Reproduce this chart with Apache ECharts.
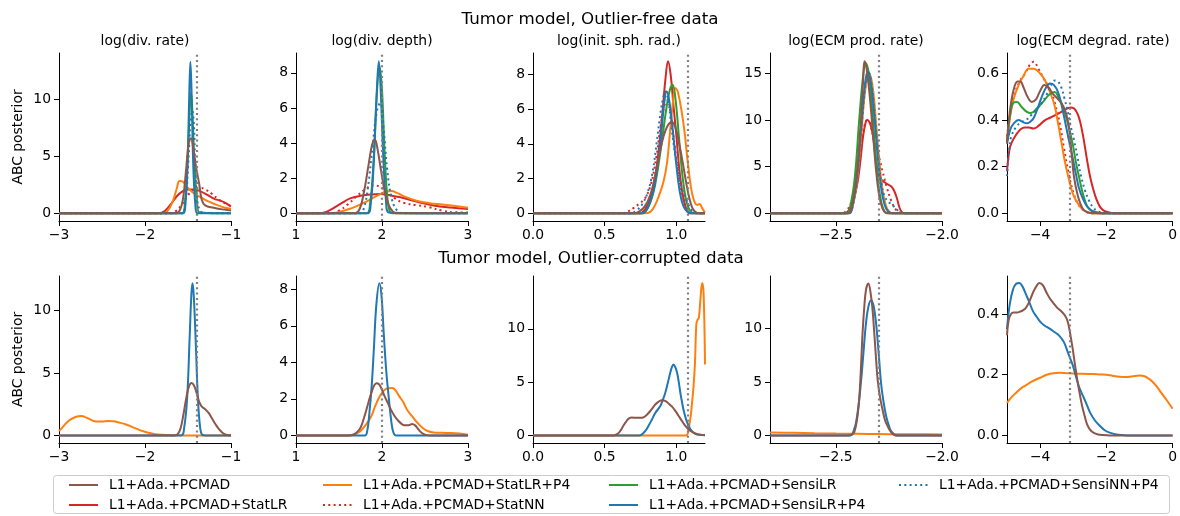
<!DOCTYPE html>
<html><head><meta charset="utf-8">
<script src="https://cdn.jsdelivr.net/npm/echarts@6/dist/echarts.min.js"></script>
<style>html,body{margin:0;padding:0;background:#fff}#c{width:1180px;height:516px}</style>
</head><body><div id="c"></div>
<script>
// ---------- labels ----------
const methodNames = {
  pcmad: 'L1+Ada.+PCMAD', statlr: 'L1+Ada.+PCMAD+StatLR', statlrp4: 'L1+Ada.+PCMAD+StatLR+P4',
  statnn: 'L1+Ada.+PCMAD+StatNN', sensilr: 'L1+Ada.+PCMAD+SensiLR', sensilrp4: 'L1+Ada.+PCMAD+SensiLR+P4',
  sensinnp4: 'L1+Ada.+PCMAD+SensiNN+P4'
};
const legendColumns = [['pcmad','statlr'],['statlrp4','statnn'],['sensilr','sensilrp4'],['sensinnp4']];
const drawOrder = ['statlr','statnn','statlrp4','sensilr','sensinnp4','sensilrp4','pcmad'];
const paramTitles = ['log(div. rate)','log(div. depth)','log(init. sph. rad.)','log(ECM prod. rate)','log(ECM degrad. rate)'];
const rowTitles = ['Tumor model, Outlier-free data','Tumor model, Outlier-corrupted data'];
const trueValues = [-1.398, 2.0, 1.079, -2.301, -3.097];
const xRanges = [[-3,-1],[1,3],[0,1.2],[-2.81,-2.0],[-5,0]];
const xTicks = [[-3,-2,-1],[1,2,3],[0,0.5,1.0],[-2.5,-2.0],[-4,-2,0]];
const xDecimals = [0,0,1,1,0];
const yTicksFree = [[0,5,10],[0,2,4,6,8],[0,2,4,6,8],[0,5,10,15],[0,0.2,0.4,0.6]];
const yTicksCorr = [[0,5,10],[0,2,4,6,8],[0,5,10],[0,5,10],[0,0.2,0.4]];
const yDecimals = [0,0,0,0,1];
const yPeakFree = [13.4, 8.69, 8.78, 16.37, 0.655];
const yPeakCorr = [12.17, 8.31, 14.25, 14.2, 0.5];

// ---------- outlier-free data ----------
const f1_pcmad = [[-3,0],[-1.65,0],[-1.6,0.2],[-1.56,1.2],[-1.52,4],[-1.49,6.3],[-1.465,6.6],[-1.44,5.8],[-1.41,4.2],[-1.37,2.6],[-1.34,1.2],[-1.3,0.7],[-1.2,0.5],[-1.1,0.35],[-1,0.25]];
const f1_sensilrp4 = [[-3,0],[-1.56,0],[-1.53,0.8],[-1.505,4.5],[-1.485,10.5],[-1.472,13.3],[-1.458,10.5],[-1.44,4.5],[-1.415,0.8],[-1.39,0],[-1,0]];
const f1_sensilr = [[-3,0],[-1.57,0],[-1.535,1],[-1.505,4.5],[-1.48,9],[-1.465,10.6],[-1.45,9],[-1.425,4.5],[-1.395,1],[-1.37,0.1],[-1,0]];
const f1_sensinnp4 = [[-3,0],[-1.57,0],[-1.53,1],[-1.5,4],[-1.47,8],[-1.45,9],[-1.43,7.5],[-1.415,4],[-1.395,1.5],[-1.37,0.4],[-1.32,0.05],[-1,0]];
const f1_statlrp4 = [[-3,0],[-1.8,0],[-1.74,0.2],[-1.68,1.0],[-1.63,2.2],[-1.6,2.85],[-1.565,2.8],[-1.52,2.4],[-1.47,2.0],[-1.42,1.7],[-1.35,1.4],[-1.25,1.0],[-1.15,0.7],[-1.07,0.5],[-1,0.4]];
const f1_statlr = [[-3,0],[-1.84,0],[-1.77,0.2],[-1.7,0.8],[-1.63,1.5],[-1.56,1.95],[-1.5,2.1],[-1.43,2.1],[-1.36,1.95],[-1.28,1.65],[-1.2,1.3],[-1.12,1.1],[-1.06,0.9],[-1,0.6]];
const f1_statnn = [[-3,0],[-1.72,0],[-1.64,0.2],[-1.57,0.8],[-1.5,1.6],[-1.43,2.1],[-1.36,2.25],[-1.3,2.1],[-1.22,1.7],[-1.14,1.2],[-1.06,0.85],[-1,0.65]];

const f2_sensilrp4 = [[1,0],[1.83,0],[1.87,0.6],[1.905,3],[1.94,7],[1.963,8.65],[1.985,7],[2.015,3.2],[2.045,0.8],[2.08,0.05],[3,0]];
const f2_sensilr = [[1,0],[1.82,0],[1.86,0.5],[1.9,2.8],[1.94,6.8],[1.972,8.35],[2.0,7],[2.03,3.5],[2.06,1.0],[2.09,0.1],[2.12,0],[3,0]];
const f2_sensinnp4 = [[1,0],[1.74,0],[1.79,0.3],[1.84,1.6],[1.89,3.8],[1.94,5.8],[1.98,6.3],[2.02,4.8],[2.06,2.5],[2.11,0.9],[2.17,0.2],[2.25,0],[3,0]];
const f2_pcmad = [[1,0],[1.68,0],[1.74,0.25],[1.79,1.2],[1.845,2.8],[1.885,3.9],[1.917,4.2],[1.95,3.6],[1.99,2.4],[2.03,1.3],[2.08,0.45],[2.13,0.08],[2.18,0],[3,0]];
const f2_statlr = [[1,0],[1.25,0],[1.33,0.05],[1.4,0.2],[1.52,0.55],[1.63,0.85],[1.75,1.0],[1.87,1.08],[1.98,1.1],[2.1,1.02],[2.2,0.93],[2.41,0.66],[2.6,0.45],[2.8,0.33],[3,0.25]];
const f2_statlrp4 = [[1,0],[1.4,0],[1.5,0.08],[1.6,0.22],[1.7,0.4],[1.8,0.62],[1.9,0.9],[1.98,1.1],[2.05,1.25],[2.11,1.27],[2.18,1.15],[2.28,0.92],[2.4,0.72],[2.55,0.58],[2.7,0.5],[2.85,0.42],[3,0.32]];
const f2_statnn = [[1,0],[1.4,0],[1.5,0.15],[1.6,0.5],[1.7,0.95],[1.8,1.35],[1.9,1.6],[1.98,1.5],[2.06,1.2],[2.15,0.85],[2.25,0.6],[2.4,0.47],[2.55,0.35],[2.7,0.15],[2.85,0.06],[3,0.05]];

const f3_statlr = [[0,0],[0.74,0],[0.78,0.2],[0.82,0.9],[0.85,2.0],[0.875,3.5],[0.9,5.5],[0.925,7.8],[0.942,8.75],[0.96,8.0],[0.98,6.2],[1.0,4.5],[1.02,2.6],[1.04,1.3],[1.06,0.5],[1.08,0.1],[1.1,0],[1.2,0]];
const f3_sensilr = [[0,0],[0.76,0],[0.8,0.3],[0.84,1.2],[0.87,2.5],[0.9,4.2],[0.93,6.0],[0.955,7.1],[0.974,7.4],[0.995,6.5],[1.02,4.2],[1.045,2.0],[1.07,0.7],[1.095,0.15],[1.12,0.02],[1.2,0]];
const f3_sensilrp4 = [[0,0],[0.76,0],[0.8,0.3],[0.84,1.3],[0.87,2.8],[0.895,4.6],[0.915,6.3],[0.932,7.0],[0.95,6.5],[0.975,4.8],[1.0,2.8],[1.025,1.2],[1.05,0.4],[1.08,0.06],[1.1,0],[1.2,0]];
const f3_statlrp4 = [[0,0],[0.78,0],[0.82,0.1],[0.85,0.45],[0.876,0.95],[0.91,1.8],[0.935,2.9],[0.955,4.6],[0.975,6.3],[0.993,7.2],[1.01,7.0],[1.04,5.7],[1.06,4.5],[1.075,3.3],[1.095,1.9],[1.11,1.15],[1.13,0.6],[1.145,0.48],[1.163,0.54],[1.18,0.3],[1.2,0.04]];
const f3_pcmad = [[0,0],[0.7,0],[0.74,0.1],[0.78,0.4],[0.82,1.1],[0.85,2.1],[0.88,3.3],[0.91,4.4],[0.94,5.05],[0.97,5.25],[0.995,4.9],[1.02,4.0],[1.045,2.9],[1.07,1.7],[1.09,0.9],[1.11,0.35],[1.13,0.1],[1.16,0],[1.2,0]];
const f3_sensinnp4 = [[0,0],[0.68,0],[0.72,0.15],[0.76,0.5],[0.8,1.2],[0.835,2.4],[0.865,4.2],[0.89,5.8],[0.91,6.7],[0.925,7.0],[0.945,6.4],[0.965,5.0],[0.99,3.5],[1.01,2.5],[1.04,1.4],[1.065,0.9],[1.09,0.4],[1.12,0.08],[1.15,0],[1.2,0]];
const f3_statnn = [[0,0],[0.62,0],[0.66,0.1],[0.7,0.3],[0.74,0.55],[0.78,0.85],[0.82,1.6],[0.86,3.2],[0.89,5.0],[0.92,6.3],[0.94,6.5],[0.96,5.7],[0.99,3.8],[1.02,2.0],[1.05,0.8],[1.08,0.2],[1.11,0.03],[1.2,0]];

const f4_pcmad = [[-2.81,0],[-2.445,0],[-2.425,0.8],[-2.405,3.5],[-2.385,9],[-2.372,14],[-2.365,16.3],[-2.355,15.5],[-2.34,12.5],[-2.325,8.5],[-2.31,4.5],[-2.295,1.8],[-2.28,0.5],[-2.265,0.05],[-2.25,0],[-2.0,0]];
const f4_sensilr = [[-2.81,0],[-2.45,0],[-2.43,1],[-2.41,4],[-2.39,10],[-2.37,15],[-2.358,16.1],[-2.345,15],[-2.33,11.5],[-2.315,7],[-2.3,3.2],[-2.285,1.1],[-2.27,0.2],[-2.25,0],[-2.0,0]];
const f4_statlrp4 = [[-2.81,0],[-2.44,0],[-2.42,0.8],[-2.4,3.5],[-2.38,8.5],[-2.36,13.5],[-2.342,15.0],[-2.325,13.3],[-2.31,9.5],[-2.295,5.5],[-2.28,2.5],[-2.265,0.9],[-2.25,0.2],[-2.23,0],[-2.0,0]];
const f4_sensilrp4 = [[-2.81,0],[-2.44,0],[-2.42,1],[-2.4,4],[-2.38,9.5],[-2.362,14],[-2.348,15.2],[-2.332,13.5],[-2.315,9.5],[-2.3,5.5],[-2.285,2.5],[-2.27,0.9],[-2.255,0.25],[-2.235,0],[-2.0,0]];
const f4_sensinnp4 = [[-2.81,0],[-2.44,0],[-2.42,0.9],[-2.4,3.8],[-2.38,9],[-2.36,13.8],[-2.345,15.1],[-2.33,13.5],[-2.315,10],[-2.3,6],[-2.285,3.2],[-2.27,1.8],[-2.25,1.2],[-2.235,0.9],[-2.22,0.6],[-2.205,0.25],[-2.19,0.05],[-2.17,0],[-2.0,0]];
const f4_statlr = [[-2.81,0],[-2.46,0],[-2.44,0.3],[-2.42,1.2],[-2.4,3.0],[-2.385,5.5],[-2.372,8.2],[-2.36,9.7],[-2.352,10.0],[-2.334,9.3],[-2.32,7.5],[-2.31,5.4],[-2.295,3.9],[-2.28,3.5],[-2.262,3.2],[-2.24,2.9],[-2.225,2.4],[-2.212,1.6],[-2.2,0.6],[-2.188,0.1],[-2.175,0],[-2.0,0]];
const f4_statnn = [[-2.81,0],[-2.47,0],[-2.45,0.3],[-2.43,1.0],[-2.41,2.8],[-2.39,5.5],[-2.375,8.2],[-2.36,9.8],[-2.35,10],[-2.335,9.3],[-2.32,7.8],[-2.303,6.6],[-2.28,4.5],[-2.26,2.8],[-2.24,1.4],[-2.22,0.5],[-2.2,0.1],[-2.18,0],[-2.0,0]];

const f5_statlrp4 = [[-5,0.31],[-4.9,0.42],[-4.8,0.49],[-4.65,0.55],[-4.5,0.59],[-4.35,0.62],[-4.2,0.62],[-4.0,0.6],[-3.85,0.57],[-3.7,0.52],[-3.56,0.46],[-3.45,0.38],[-3.35,0.3],[-3.25,0.22],[-3.12,0.14],[-3.0,0.08],[-2.85,0.04],[-2.7,0.015],[-2.5,0.003],[-2.3,0],[0,0]];
const f5_statnn = [[-5,0.33],[-4.9,0.43],[-4.8,0.5],[-4.6,0.57],[-4.45,0.6],[-4.3,0.64],[-4.2,0.65],[-4.05,0.62],[-3.9,0.58],[-3.7,0.53],[-3.55,0.47],[-3.4,0.38],[-3.28,0.28],[-3.15,0.18],[-3.0,0.09],[-2.85,0.04],[-2.65,0.01],[-2.4,0],[0,0]];
const f5_pcmad = [[-5,0.3],[-4.92,0.43],[-4.8,0.53],[-4.68,0.565],[-4.6,0.565],[-4.5,0.54],[-4.38,0.5],[-4.25,0.478],[-4.12,0.49],[-4.0,0.525],[-3.87,0.55],[-3.75,0.54],[-3.6,0.51],[-3.46,0.49],[-3.3,0.46],[-3.2,0.42],[-3.12,0.36],[-3.05,0.26],[-2.98,0.16],[-2.88,0.086],[-2.78,0.04],[-2.68,0.014],[-2.5,0.002],[-2.3,0],[0,0]];
const f5_sensilr = [[-5,0.3],[-4.9,0.43],[-4.8,0.475],[-4.7,0.478],[-4.55,0.455],[-4.4,0.435],[-4.28,0.43],[-4.1,0.45],[-3.9,0.48],[-3.72,0.51],[-3.56,0.52],[-3.45,0.5],[-3.35,0.47],[-3.27,0.44],[-3.15,0.38],[-3.02,0.3],[-2.92,0.22],[-2.83,0.16],[-2.72,0.09],[-2.58,0.03],[-2.45,0.012],[-2.29,0.004],[-2.1,0],[0,0]];
const f5_sensilrp4 = [[-5,0.3],[-4.9,0.36],[-4.8,0.385],[-4.65,0.4],[-4.5,0.39],[-4.39,0.386],[-4.28,0.395],[-4.19,0.41],[-4.05,0.46],[-3.95,0.5],[-3.82,0.54],[-3.7,0.557],[-3.58,0.55],[-3.46,0.52],[-3.36,0.47],[-3.27,0.41],[-3.14,0.32],[-3.02,0.24],[-2.92,0.17],[-2.83,0.11],[-2.7,0.06],[-2.58,0.03],[-2.45,0.012],[-2.29,0.004],[-2.1,0],[0,0]];
const f5_sensinnp4 = [[-5,0.16],[-4.93,0.28],[-4.87,0.33],[-4.73,0.37],[-4.58,0.39],[-4.43,0.4],[-4.28,0.42],[-4.14,0.44],[-3.97,0.47],[-3.8,0.51],[-3.67,0.55],[-3.56,0.57],[-3.46,0.565],[-3.36,0.54],[-3.26,0.49],[-3.17,0.44],[-3.07,0.37],[-2.97,0.31],[-2.87,0.24],[-2.78,0.17],[-2.65,0.1],[-2.53,0.057],[-2.4,0.025],[-2.29,0.012],[-2.1,0.002],[-1.9,0],[0,0]];
const f5_statlr = [[-5,0.18],[-4.93,0.27],[-4.87,0.3],[-4.73,0.336],[-4.58,0.362],[-4.45,0.368],[-4.34,0.368],[-4.2,0.364],[-4.05,0.375],[-3.85,0.4],[-3.7,0.41],[-3.56,0.42],[-3.4,0.432],[-3.27,0.443],[-3.15,0.452],[-3.07,0.454],[-2.98,0.45],[-2.92,0.44],[-2.85,0.42],[-2.78,0.386],[-2.7,0.33],[-2.63,0.27],[-2.56,0.21],[-2.49,0.157],[-2.39,0.1],[-2.29,0.057],[-2.2,0.03],[-2.1,0.014],[-1.95,0.005],[-1.8,0.001],[-1.6,0],[0,0]];

// ---------- outlier-corrupted data ----------
const c1_sensilrp4 = [[-3,0],[-1.58,0],[-1.545,0.6],[-1.51,3],[-1.48,8],[-1.46,11.4],[-1.447,12.2],[-1.433,11.2],[-1.41,7.5],[-1.385,3],[-1.36,0.7],[-1.335,0.05],[-1.3,0],[-1,0]];
const c1_pcmad = [[-3,0],[-1.66,0],[-1.62,0.1],[-1.585,0.6],[-1.55,1.8],[-1.52,3.0],[-1.49,3.9],[-1.46,4.2],[-1.43,4.0],[-1.4,3.4],[-1.37,2.7],[-1.34,2.3],[-1.3,2.1],[-1.26,1.8],[-1.22,1.35],[-1.18,0.9],[-1.14,0.5],[-1.1,0.22],[-1.06,0.06],[-1.02,0.01],[-1,0]];
const c1_statlrp4 = [[-3,0.35],[-2.96,0.65],[-2.915,1.0],[-2.86,1.3],[-2.8,1.5],[-2.74,1.55],[-2.68,1.42],[-2.62,1.22],[-2.57,1.12],[-2.5,1.12],[-2.43,1.15],[-2.37,1.13],[-2.3,1.03],[-2.22,0.88],[-2.14,0.65],[-2.08,0.48],[-2.03,0.35],[-1.95,0.2],[-1.88,0.1],[-1.8,0.05],[-1.7,0.02],[-1.6,0.005],[-1.5,0],[-1,0]];

const c2_sensilrp4 = [[1,0],[1.8,0],[1.83,0.3],[1.85,1.06],[1.88,2.7],[1.905,4.7],[1.935,7.2],[1.97,8.33],[1.995,7.6],[2.02,5.6],[2.05,3.5],[2.08,2.0],[2.11,0.7],[2.13,0.2],[2.16,0],[3,0]];
const c2_pcmad = [[1,0],[1.6,0],[1.67,0.05],[1.71,0.18],[1.75,0.42],[1.79,0.95],[1.83,1.6],[1.86,2.1],[1.885,2.45],[1.91,2.75],[1.936,2.86],[1.965,2.8],[1.995,2.55],[2.03,2.15],[2.07,1.75],[2.1,1.45],[2.14,1.1],[2.18,0.85],[2.22,0.66],[2.26,0.55],[2.31,0.56],[2.35,0.62],[2.385,0.55],[2.42,0.35],[2.46,0.15],[2.5,0.04],[2.55,0],[3,0]];
const c2_statlrp4 = [[1,0],[1.62,0],[1.68,0.05],[1.74,0.2],[1.79,0.45],[1.83,0.7],[1.88,1.1],[1.92,1.6],[1.97,2.1],[2.02,2.45],[2.07,2.58],[2.12,2.6],[2.16,2.45],[2.2,2.15],[2.25,1.8],[2.29,1.42],[2.35,1.05],[2.41,0.7],[2.47,0.42],[2.53,0.24],[2.6,0.16],[2.7,0.14],[2.8,0.13],[2.9,0.1],[3,0.04]];

const c3_sensilrp4 = [[0,0],[0.74,0],[0.76,0.1],[0.785,0.45],[0.806,0.9],[0.83,1.5],[0.853,2.1],[0.888,2.75],[0.905,3.3],[0.923,4.0],[0.94,4.9],[0.958,5.9],[0.97,6.45],[0.98,6.66],[0.993,6.4],[1.005,5.9],[1.017,5.0],[1.028,4.0],[1.04,3.1],[1.05,2.4],[1.068,1.5],[1.086,0.9],[1.103,0.5],[1.12,0.25],[1.14,0.1],[1.157,0.06],[1.2,0.01]];
const c3_pcmad = [[0,0],[0.56,0],[0.59,0.15],[0.61,0.45],[0.63,0.9],[0.65,1.3],[0.67,1.6],[0.69,1.68],[0.72,1.65],[0.76,1.65],[0.785,1.82],[0.806,2.1],[0.83,2.5],[0.853,2.9],[0.875,3.15],[0.9,3.31],[0.922,3.25],[0.946,3.0],[0.97,2.7],[0.993,2.3],[1.015,1.85],[1.04,1.34],[1.063,0.9],[1.086,0.56],[1.11,0.33],[1.133,0.19],[1.16,0.08],[1.19,0.03],[1.2,0.02]];
const c3_statlrp4 = [[0,0],[1.07,0],[1.08,0.2],[1.086,0.56],[1.1,1.8],[1.11,3.1],[1.12,4.6],[1.13,6.8],[1.14,10.5],[1.15,10.9],[1.157,11.0],[1.168,12.75],[1.18,14.3],[1.19,13.4],[1.2,6.65]];

const c4_pcmad = [[-2.81,0],[-2.44,0],[-2.425,0.1],[-2.413,0.3],[-2.4,1.5],[-2.39,3.4],[-2.382,6.2],[-2.374,9.6],[-2.366,12],[-2.358,13.6],[-2.347,14.2],[-2.334,13],[-2.326,11.5],[-2.319,9.6],[-2.311,7.3],[-2.303,5.2],[-2.292,3.6],[-2.28,2.4],[-2.268,1.4],[-2.256,0.87],[-2.243,0.4],[-2.229,0.1],[-2.215,0],[-2.0,0]];
const c4_sensilrp4 = [[-2.81,0],[-2.43,0],[-2.415,0.5],[-2.405,1.2],[-2.393,2.8],[-2.382,4.9],[-2.37,7.7],[-2.358,10.5],[-2.346,12.1],[-2.334,12.65],[-2.322,12.1],[-2.31,10.4],[-2.298,7.6],[-2.287,4.9],[-2.275,3.1],[-2.263,1.8],[-2.25,0.9],[-2.24,0.4],[-2.225,0.1],[-2.21,0],[-2.0,0]];
const c4_statlrp4 = [[-2.81,0.28],[-2.7,0.24],[-2.6,0.2],[-2.5,0.17],[-2.4,0.15],[-2.3,0.13],[-2.2,0.11],[-2.1,0.1],[-2.0,0.09]];

const c5_sensilrp4 = [[-5,0.35],[-4.92,0.43],[-4.82,0.48],[-4.72,0.5],[-4.63,0.502],[-4.53,0.49],[-4.43,0.465],[-4.33,0.44],[-4.22,0.41],[-4.1,0.39],[-4.0,0.375],[-3.87,0.362],[-3.75,0.354],[-3.6,0.343],[-3.46,0.332],[-3.36,0.32],[-3.27,0.305],[-3.15,0.27],[-3.02,0.233],[-2.92,0.195],[-2.83,0.162],[-2.75,0.14],[-2.68,0.124],[-2.58,0.098],[-2.49,0.075],[-2.35,0.05],[-2.19,0.031],[-2.05,0.017],[-1.9,0.009],[-1.7,0.003],[-1.5,0.001],[-1.3,0],[0,0]];
const c5_pcmad = [[-5,0.33],[-4.95,0.38],[-4.88,0.4],[-4.8,0.405],[-4.7,0.405],[-4.6,0.408],[-4.52,0.412],[-4.43,0.42],[-4.33,0.44],[-4.22,0.469],[-4.12,0.49],[-4.02,0.502],[-3.92,0.495],[-3.8,0.469],[-3.7,0.45],[-3.6,0.436],[-3.48,0.42],[-3.36,0.409],[-3.25,0.395],[-3.17,0.376],[-3.1,0.34],[-3.02,0.288],[-2.95,0.235],[-2.88,0.184],[-2.8,0.135],[-2.73,0.096],[-2.65,0.062],[-2.58,0.036],[-2.5,0.02],[-2.39,0.009],[-2.25,0.003],[-2.1,0.001],[-1.9,0],[0,0]];
const c5_statlrp4 = [[-5,0.107],[-4.87,0.125],[-4.73,0.14],[-4.58,0.155],[-4.43,0.165],[-4.24,0.178],[-4.0,0.19],[-3.8,0.2],[-3.6,0.205],[-3.4,0.206],[-3.2,0.205],[-3.0,0.204],[-2.7,0.203],[-2.4,0.202],[-2.2,0.201],[-2.0,0.2],[-1.8,0.196],[-1.6,0.193],[-1.4,0.192],[-1.2,0.195],[-1.0,0.197],[-0.85,0.195],[-0.72,0.187],[-0.6,0.176],[-0.47,0.16],[-0.34,0.14],[-0.17,0.115],[0,0.088]];

// ---------- tables built from the arrays ----------
const freePanels = [
  {pcmad:f1_pcmad, statlr:f1_statlr, statlrp4:f1_statlrp4, statnn:f1_statnn, sensilr:f1_sensilr, sensilrp4:f1_sensilrp4, sensinnp4:f1_sensinnp4},
  {pcmad:f2_pcmad, statlr:f2_statlr, statlrp4:f2_statlrp4, statnn:f2_statnn, sensilr:f2_sensilr, sensilrp4:f2_sensilrp4, sensinnp4:f2_sensinnp4},
  {pcmad:f3_pcmad, statlr:f3_statlr, statlrp4:f3_statlrp4, statnn:f3_statnn, sensilr:f3_sensilr, sensilrp4:f3_sensilrp4, sensinnp4:f3_sensinnp4},
  {pcmad:f4_pcmad, statlr:f4_statlr, statlrp4:f4_statlrp4, statnn:f4_statnn, sensilr:f4_sensilr, sensilrp4:f4_sensilrp4, sensinnp4:f4_sensinnp4},
  {pcmad:f5_pcmad, statlr:f5_statlr, statlrp4:f5_statlrp4, statnn:f5_statnn, sensilr:f5_sensilr, sensilrp4:f5_sensilrp4, sensinnp4:f5_sensinnp4}
];
const corrPanels = [
  {pcmad:c1_pcmad, statlrp4:c1_statlrp4, sensilrp4:c1_sensilrp4},
  {pcmad:c2_pcmad, statlrp4:c2_statlrp4, sensilrp4:c2_sensilrp4},
  {pcmad:c3_pcmad, statlrp4:c3_statlrp4, sensilrp4:c3_sensilrp4},
  {pcmad:c4_pcmad, statlrp4:c4_statlrp4, sensilrp4:c4_sensilrp4},
  {pcmad:c5_pcmad, statlrp4:c5_statlrp4, sensilrp4:c5_sensilrp4}
];

// ---------- styles / layout ----------
const DOT = [2, 3.3];
const styles = {
  pcmad:{color:'#8c564b', type:'solid'}, statlr:{color:'#d62728', type:'solid'},
  statlrp4:{color:'#ff7f0e', type:'solid'}, statnn:{color:'#d62728', type:DOT},
  sensilr:{color:'#2ca02c', type:'solid'}, sensilrp4:{color:'#1f77b4', type:'solid'},
  sensinnp4:{color:'#1f77b4', type:DOT}
};
const FONT = 'DejaVu Sans';
const gridLefts = [59, 296, 533, 770, 1007];
const gridW = 172;
const rowTop = [53, 276];
const rowH = [168, 167];

function fmt(v, d) {
  const s = Math.abs(v).toFixed(d);
  return (v < -1e-9 ? '\u2212' : '') + s;
}

const grids = [], xAxes = [], yAxes = [], series = [], titles = [];
titles.push({text: rowTitles[0], left: 590, top: 20, textAlign:'center', textVerticalAlign:'middle', padding:0,
  textStyle:{fontSize:16.7, fontWeight:'normal', color:'#000', fontFamily:FONT}});
titles.push({text: rowTitles[1], left: 591, top: 259, textAlign:'center', textVerticalAlign:'middle', padding:0,
  textStyle:{fontSize:16.7, fontWeight:'normal', color:'#000', fontFamily:FONT}});

for (let r = 0; r < 2; r++) {
  const panels = r === 0 ? freePanels : corrPanels;
  const yTicks = r === 0 ? yTicksFree : yTicksCorr;
  const yPeak = r === 0 ? yPeakFree : yPeakCorr;
  for (let p = 0; p < 5; p++) {
    const gi = r * 5 + p;
    grids.push({left: gridLefts[p], top: rowTop[r], width: gridW, height: rowH[r], containLabel: false});
    if (r === 0) {
      titles.push({text: paramTitles[p], left: gridLefts[p] + gridW / 2, top: 41, textAlign:'center', textVerticalAlign:'middle', padding:0,
        textStyle:{fontSize:13.9, fontWeight:'normal', color:'#000', fontFamily:FONT}});
    }
    const xd = xDecimals[p], yd = yDecimals[p];
    xAxes.push({
      type:'value', gridIndex: gi, min: xRanges[p][0], max: xRanges[p][1],
      axisLine:{show:true, onZero:false, lineStyle:{color:'#000', width:1}},
      axisTick:{show:true, inside:false, length:5, customValues: xTicks[p], lineStyle:{color:'#000', width:1}},
      axisLabel:{show:true, margin:7, customValues: xTicks[p], color:'#000', fontSize:13.9, fontFamily:FONT,
        formatter: v => fmt(v, xd)},
      splitLine:{show:false}
    });
    const ya = {
      type:'value', gridIndex: gi, min: -0.05 * yPeak[p], max: 1.05 * yPeak[p],
      axisLine:{show:true, onZero:false, lineStyle:{color:'#000', width:1}},
      axisTick:{show:true, inside:false, length:5, customValues: yTicks[p], lineStyle:{color:'#000', width:1}},
      axisLabel:{show:true, margin:8, customValues: yTicks[p], color:'#000', fontSize:13.9, fontFamily:FONT,
        formatter: v => fmt(v, yd)},
      splitLine:{show:false}
    };
    if (p === 0) {
      ya.name = 'ABC posterior'; ya.nameLocation = 'middle'; ya.nameGap = 34; ya.nameRotate = 90;
      ya.nameTextStyle = {fontSize:13.9, color:'#000', fontFamily:FONT};
    }
    yAxes.push(ya);
    const keys = drawOrder.filter(k => panels[p][k]);
    keys.forEach((k, idx) => {
      const s = {
        type:'line', name: methodNames[k], xAxisIndex: gi, yAxisIndex: gi,
        data: panels[p][k], showSymbol:false, symbol:'none', smooth:0.4,
        lineStyle:{color: styles[k].color, width:2, type: styles[k].type, cap:'butt'},
        itemStyle:{color: styles[k].color}, emphasis:{disabled:true}, silent:true
      };
      if (idx === keys.length - 1) {
        s.markLine = {symbol:'none', silent:true, label:{show:false}, animation:false,
          lineStyle:{color:'#808080', type:DOT, width:2.2},
          emphasis:{disabled:true},
          data:[{xAxis: trueValues[p]}]};
      }
      series.push(s);
    });
  }
}

const legends = legendColumns.map((col, i) => ({
  orient:'vertical', left:[68, 322, 608, 898][i], top:478, padding:0,
  itemWidth:29, itemHeight:14, itemGap:6, selectedMode:false,
  itemStyle:{opacity:0, borderWidth:0},
  data: col.map(k => methodNames[k]),
  textStyle:{fontSize:13.9, color:'#000', fontFamily:FONT, padding:[0,0,0,6], lineHeight:14}
}));

const chart = echarts.init(document.getElementById('c'), null, {renderer:'canvas'});
chart.setOption({
  animation:false, backgroundColor:'#fff',
  title: titles, grid: grids, xAxis: xAxes, yAxis: yAxes, series: series, legend: legends,
  graphic:[{type:'rect', z:-1, shape:{x:53.5, y:475.5, width:1116, height:38, r:3},
    style:{fill:'#fff', stroke:'#cccccc', lineWidth:1}}]
});
</script></body></html>
